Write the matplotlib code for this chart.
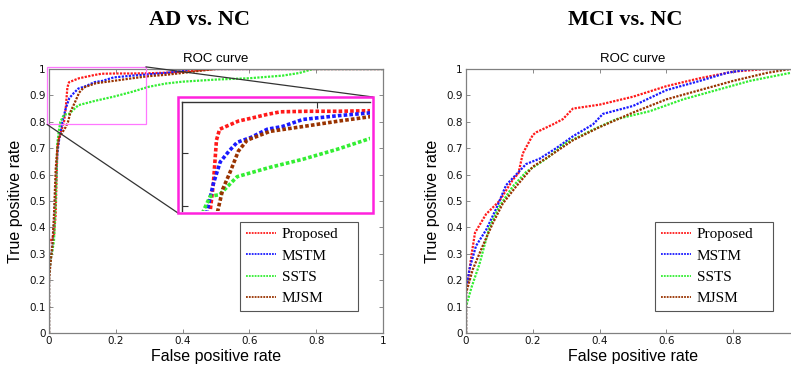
import matplotlib
matplotlib.use("Agg")
import matplotlib.pyplot as plt
from matplotlib.patches import Rectangle, ConnectionPatch

# ---------------- data: AD vs. NC ----------------
red_ad_x = [0, 0, 0.005, 0.01, 0.015, 0.02, 0.025, 0.03, 0.035, 0.04, 0.045, 0.05, 0.055, 0.06, 0.07, 0.09, 0.113, 0.135, 0.157, 0.2, 0.25, 0.3, 0.35, 0.4, 0.45, 0.5, 1.0]
red_ad_y = [0, 0.34, 0.35, 0.36, 0.37, 0.45, 0.70, 0.74, 0.76, 0.78, 0.80, 0.85, 0.93, 0.95, 0.955, 0.965, 0.971, 0.977, 0.982, 0.983, 0.983, 0.984, 0.986, 0.99, 0.995, 1.0, 1.0]

blue_ad_x = [0, 0, 0.005, 0.01, 0.015, 0.02, 0.025, 0.03, 0.04, 0.05, 0.061, 0.075, 0.088, 0.11, 0.136, 0.16, 0.193, 0.25, 0.3, 0.35, 0.4, 0.42, 1.0]
blue_ad_y = [0, 0.22, 0.28, 0.32, 0.40, 0.55, 0.68, 0.73, 0.80, 0.85, 0.89, 0.91, 0.926, 0.935, 0.95, 0.955, 0.968, 0.975, 0.98, 0.985, 0.992, 1.0, 1.0]

green_ad_x = [0, 0, 0.005, 0.01, 0.015, 0.02, 0.025, 0.03, 0.034, 0.045, 0.06, 0.088, 0.14, 0.193, 0.247, 0.3, 0.35, 0.4, 0.5, 0.6, 0.7, 0.75, 0.79, 1.0]
green_ad_y = [0, 0.22, 0.28, 0.31, 0.35, 0.50, 0.72, 0.77, 0.80, 0.827, 0.83, 0.863, 0.88, 0.895, 0.913, 0.933, 0.945, 0.952, 0.96, 0.965, 0.975, 0.985, 1.0, 1.0]

brown_ad_x = [0, 0, 0.005, 0.01, 0.015, 0.02, 0.025, 0.03, 0.04, 0.05, 0.057, 0.065, 0.077, 0.09, 0.104, 0.14, 0.193, 0.25, 0.3, 0.35, 0.4, 0.45, 0.5, 1.0]
brown_ad_y = [0, 0.20, 0.27, 0.33, 0.45, 0.62, 0.70, 0.74, 0.76, 0.78, 0.80, 0.84, 0.872, 0.91, 0.93, 0.946, 0.955, 0.965, 0.973, 0.978, 0.985, 0.993, 1.0, 1.0]

# ---------------- data: MCI vs. NC ----------------
red_mci_x = [0, 0, 0.005, 0.017, 0.027, 0.06, 0.10, 0.12, 0.14, 0.157, 0.17, 0.20, 0.21, 0.26, 0.29, 0.32, 0.40, 0.50, 0.60, 0.70, 0.80, 0.90, 1.0]
red_mci_y = [0, 0.15, 0.19, 0.30, 0.38, 0.45, 0.50, 0.54, 0.58, 0.605, 0.68, 0.75, 0.76, 0.79, 0.81, 0.85, 0.865, 0.895, 0.935, 0.965, 0.99, 1.0, 1.0]

blue_mci_x = [0, 0, 0.012, 0.03, 0.06, 0.09, 0.12, 0.15, 0.18, 0.22, 0.27, 0.32, 0.38, 0.41, 0.50, 0.60, 0.70, 0.78, 0.85, 1.0]
blue_mci_y = [0, 0.17, 0.25, 0.33, 0.39, 0.47, 0.56, 0.60, 0.64, 0.66, 0.70, 0.745, 0.79, 0.83, 0.86, 0.92, 0.955, 0.985, 1.0, 1.0]

green_mci_x = [0, 0, 0.017, 0.04, 0.07, 0.10, 0.14, 0.18, 0.24, 0.30, 0.38, 0.45, 0.55, 0.65, 0.75, 0.85, 0.97, 1.0]
green_mci_y = [0, 0.10, 0.175, 0.26, 0.40, 0.48, 0.555, 0.61, 0.66, 0.72, 0.77, 0.81, 0.84, 0.885, 0.92, 0.955, 0.985, 0.99]

brown_mci_x = [0, 0, 0.02, 0.05, 0.08, 0.11, 0.15, 0.20, 0.25, 0.32, 0.40, 0.50, 0.60, 0.70, 0.80, 0.90, 0.97, 1.0]
brown_mci_y = [0, 0.15, 0.24, 0.33, 0.415, 0.49, 0.555, 0.63, 0.67, 0.73, 0.78, 0.835, 0.885, 0.92, 0.955, 0.985, 1.0, 1.0]

labels = ["Proposed", "MSTM", "SSTS", "MJSM"]
colors = ["#ff1a1a", "#1a1aff", "#33ee33", "#993300"]
ticks = [0, 0.2, 0.4, 0.6, 0.8, 1]
tick_labels_left = ["0", "0.2", "0.4", "0.6", "0.8", "1"]
tick_labels_right = ["0", "0.2", "0.4", "0.6", "0.8", ""]   # "1" falls outside the cropped image
yticks = [0, 0.1, 0.2, 0.3, 0.4, 0.5, 0.6, 0.7, 0.8, 0.9, 1]
ytick_labels = ["0", "0.1", "0.2", "0.3", "0.4", "0.5", "0.6", "0.7", "0.8", "0.9", "1"]

ad_series = [(red_ad_x, red_ad_y), (blue_ad_x, blue_ad_y), (green_ad_x, green_ad_y), (brown_ad_x, brown_ad_y)]
mci_series = [(red_mci_x, red_mci_y), (blue_mci_x, blue_mci_y), (green_mci_x, green_mci_y), (brown_mci_x, brown_mci_y)]

W, H = 791, 374
fig = plt.figure(figsize=(W / 100, H / 100), dpi=100)

def px_rect(x0, y0, x1, y1):
    return [x0 / W, 1 - y1 / H, (x1 - x0) / W, (y1 - y0) / H]

LS = (0, (1, 0.6))

def style_axes(ax, xlabels):
    ax.set_xlim(0, 1)
    ax.set_ylim(0, 1)
    ax.set_xticks(ticks)
    ax.set_xticklabels(xlabels)
    ax.set_yticks(yticks)
    ax.set_yticklabels(ytick_labels)
    ax.tick_params(direction="in", labelsize=7.5, length=3, width=0.6, pad=2.5,
                   color="#777777", labelcolor="#111111", top=True, right=True)
    for s in ax.spines.values():
        s.set_color("#808080")
        s.set_linewidth(0.9)
    ax.set_xlabel("False positive rate", fontsize=11.5, family="Liberation Sans", labelpad=2)
    ax.set_ylabel("True positive rate", fontsize=11.5, family="Liberation Sans", labelpad=4)
    ax.set_title("ROC curve", fontsize=9.5, family="Liberation Sans", pad=5)

def legend(ax, x0):
    lg = ax.legend(loc="lower left", bbox_to_anchor=(x0, 0.083, 0.353, 0.3), mode="expand",
                   fancybox=False, prop={"family": "Liberation Serif", "size": 11},
                   handlelength=2.0, handletextpad=0.35, labelspacing=0.5,
                   borderpad=0.38, borderaxespad=0, framealpha=1)
    lg.get_frame().set_edgecolor("#555555")
    lg.get_frame().set_linewidth(0.8)
    for h in lg.get_lines():
        h.set_linewidth(1.3)

# Left panel
ax1 = fig.add_axes(px_rect(49, 69, 383, 333))
for (x, y), c, lab in zip(ad_series, colors, labels):
    ax1.plot(x, y, color=c, lw=1.6, ls=LS, label=lab)
style_axes(ax1, tick_labels_left)
legend(ax1, 0.572)

# zoom rectangle on main axes
zx0, zx1, zy0, zy1 = 0.0, 0.29, 0.79, 1.0
ax1.add_patch(Rectangle((zx0 - 0.006, zy0), zx1 - zx0 + 0.006, zy1 - zy0 + 0.008,
                        fill=False, ec="#ff77ff", lw=0.9, clip_on=False, zorder=5))

# Inset
axin = fig.add_axes(px_rect(182, 102, 370, 211))
for (x, y), c in zip(ad_series, colors):
    axin.plot(x, y, color=c, lw=2.6, ls=LS)
axin.set_xlim(0.0, 0.3)
axin.set_ylim(0.8, 1.0)
axin.set_xticks([0.215])
axin.set_yticks([0.81, 0.906])
axin.set_xticklabels([])
axin.set_yticklabels([])
axin.tick_params(direction="in", length=4, width=0.8, top=True, bottom=False, colors="#333333")
axin.spines["bottom"].set_visible(False)
axin.spines["right"].set_visible(False)
for s in ["top", "left"]:
    axin.spines[s].set_color("#333333")
    axin.spines[s].set_linewidth(1.0)
fig.add_artist(Rectangle((178 / W, 1 - 213 / H), (373 - 178) / W, (213 - 97) / H,
                         transform=fig.transFigure, fill=False, ec="#ff22dd", lw=1.8, zorder=10))

# connector lines
con1 = ConnectionPatch(xyA=(zx1, zy1 + 0.008), coordsA=ax1.transData,
                       xyB=(373 / W, 1 - 97 / H), coordsB=fig.transFigure,
                       color="#333333", lw=0.9)
fig.add_artist(con1)
con2 = ConnectionPatch(xyA=(zx0 - 0.006, zy0), coordsA=ax1.transData,
                       xyB=(178 / W, 1 - 213 / H), coordsB=fig.transFigure,
                       color="#333333", lw=0.9)
fig.add_artist(con2)

# Right panel (extends past the right image edge like the reference)
ax2 = fig.add_axes(px_rect(466, 69, 800, 333))
for (x, y), c, lab in zip(mci_series, colors, labels):
    ax2.plot(x, y, color=c, lw=1.6, ls=LS, label=lab)
style_axes(ax2, tick_labels_right)
legend(ax2, 0.566)

# Panel headings
fig.text(200 / W, 1 - 20 / H, "AD vs. NC", ha="center", va="center",
         family="Liberation Serif", fontweight="bold", fontsize=16)
fig.text(625 / W, 1 - 20 / H, "MCI vs. NC", ha="center", va="center",
         family="Liberation Serif", fontweight="bold", fontsize=16)

fig.savefig("out.png", dpi=100)
